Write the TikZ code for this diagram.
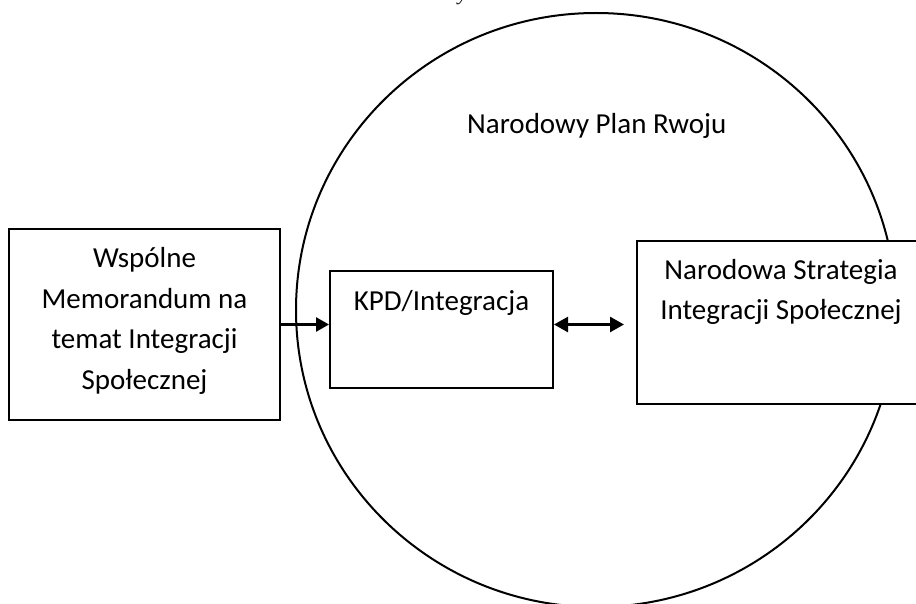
\documentclass[tikz,border=0pt]{standalone}
\usepackage{fontspec}
\setmainfont{Carlito}
\newfontfamily\capfont{Liberation Serif}
\usetikzlibrary{arrows.meta,shapes.geometric}
\begin{document}
\begin{tikzpicture}[x=1pt,y=-1pt,
  boxstyle/.style={draw, line width=2pt, fill=white, rectangle, inner sep=0pt},
  lbl/.style={font=\fontsize{29}{40.7}\selectfont, align=center, inner sep=0pt},
  conn/.style={line width=2.5pt, -{Triangle[length=13pt,width=14pt]}},
  dconn/.style={line width=2.5pt, {Triangle[length=14pt,width=15pt]}-{Triangle[length=14pt,width=15pt]}}]
\useasboundingbox (0,0) rectangle (916,604);
% fragment of caption text above
\node[font=\capfont\itshape\fontsize{20}{24}\selectfont, inner sep=0pt, anchor=base west] (capy) at (458,0.5) {y};
% big ellipse
\node[draw, ellipse, line width=2pt, minimum width=600pt, minimum height=594pt, inner sep=0pt] (plan) at (596,310) {};
\node[lbl, anchor=base west] (plantext) at (467,134) {Narodowy Plan Rwoju};
% left box
\node[boxstyle, minimum width=271pt, minimum height=191pt] (memo) at (144.5,324.5) {};
\node[lbl] (memotext) at (144.5,321) {Wspólne\\Memorandum na\\temat Integracji\\Społecznej};
% KPD box
\node[boxstyle, minimum width=223pt, minimum height=117pt] (kpd) at (441.5,329.5) {};
\node[lbl, anchor=base] (kpdtext) at (441.5,310) {KPD/Integracja};
% right box
\node[boxstyle, minimum width=288pt, minimum height=163pt] (strat) at (781,322.5) {};
\node[lbl] (strattext) at (781,292) {Narodowa Strategia\\Integracji Społecznej};
% connectors
\draw[conn] (memo.east) -- (memo.east -| kpd.west);
\draw[dconn, shorten >=12pt] (memo.east -| kpd.east) -- (memo.east -| strat.west);
\end{tikzpicture}
\end{document}
